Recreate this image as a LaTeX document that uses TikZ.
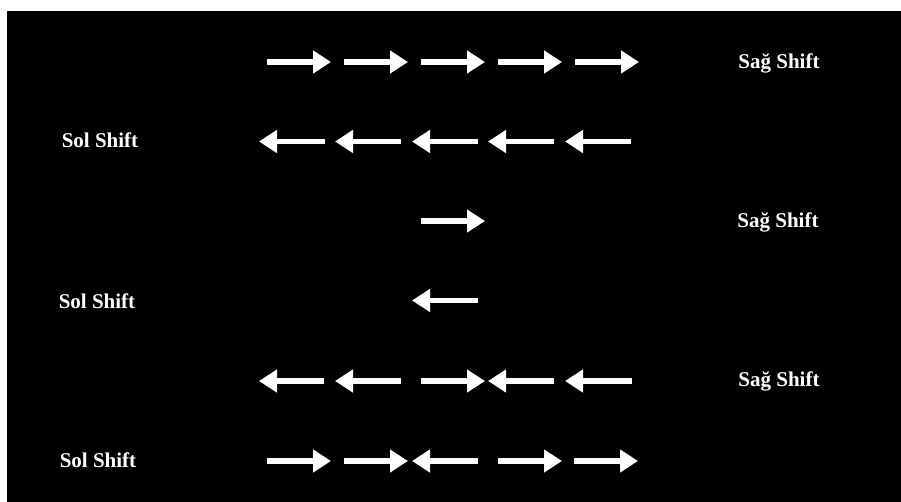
\documentclass[tikz,border=0pt]{standalone}
\usepackage{fontspec}
\setmainfont{Liberation Serif}
\usepackage{tikz}
\usetikzlibrary{arrows.meta}
\tikzset{
  shiftarr/.style={draw=white, line width=5.5pt, -{Triangle[length=18pt,width=22pt]}},
  lbl/.style={text=white, anchor=base, inner sep=0pt, font=\fontsize{21}{25}\selectfont\bfseries}
}

\begin{document}
\begin{tikzpicture}[x=1pt,y=-1pt]
 \useasboundingbox (0,0) rectangle (901,502);
 \fill[white] (0,0) rectangle (901,502);
 \fill[black] (7,11) rectangle (901,502);
 % ---- labels ----
 \node[lbl] (sag1) at (779,68.5) {Sağ Shift};
 \node[lbl] (sol1) at (100,148) {Sol Shift};
 \node[lbl] (sag2) at (778,227.5) {Sağ Shift};
 \node[lbl] (sol2) at (97,308.5) {Sol Shift};
 \node[lbl] (sag3) at (779,386.5) {Sağ Shift};
 \node[lbl] (sol3) at (98,467) {Sol Shift};
 % ---- row 1: all right ----
 \foreach \x in {267,344,421,498,575}
   \draw[shiftarr] (\x,62) -- ++(64,0);
 % ---- row 2: all left ----
 \foreach \x in {259,335,412,488,565}
   \draw[shiftarr] (\x+66,141.5) -- (\x,141.5);
 % ---- rows 3 and 4: single ----
 \draw[shiftarr] (421,221) -- (485,221);
 \draw[shiftarr] (478,300.5) -- (412,300.5);
 % ---- row 5: mixed ----
 \draw[shiftarr] (324,381) -- (259,381);
 \draw[shiftarr] (401,381) -- (335,381);
 \draw[shiftarr] (421,381) -- (485,381);
 \draw[shiftarr] (554,381) -- (488,381);
 \draw[shiftarr] (632,381) -- (565,381);
 % ---- row 6: mixed ----
 \draw[shiftarr] (267,461) -- (331,461);
 \draw[shiftarr] (344,461) -- (408,461);
 \draw[shiftarr] (478,461) -- (412,461);
 \draw[shiftarr] (498,461) -- (562,461);
 \draw[shiftarr] (574,461) -- (638,461);
\end{tikzpicture}
\end{document}
